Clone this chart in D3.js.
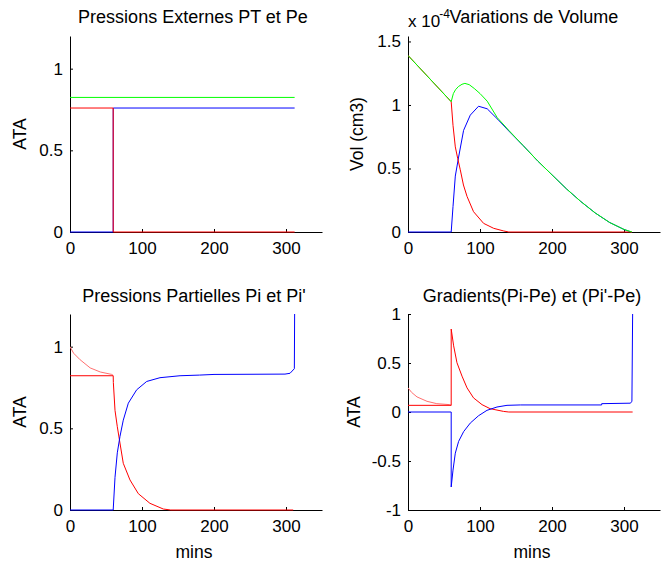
<!DOCTYPE html>
<html><head><meta charset="utf-8">
<script src="https://cdn.jsdelivr.net/npm/d3@7"></script>
<style>
body{margin:0;background:#fff}
svg{display:block;background:#fff}
text{font-family:"Liberation Sans",Arial,Helvetica,sans-serif;fill:#000}
</style>
</head><body>
<svg id="c" width="663" height="563"></svg>
<script>
// ---------- shared axis data ----------
const xDomain = [0, 350];
const xTickValues = [0, 100, 200, 300];

// ---------- Panel 1 : Pressions Externes PT et Pe ----------
const extTime = [0, 60, 60, 312];
const extBlue = [0, 0, 0.759, 0.759];
const extRed = [0.759, 0.759, 0, 0];
const extGreenTime = [0, 312];
const extGreen = [0.824, 0.824];
const extYTicks = [0, 0.5, 1];

// ---------- Panel 2 : Variations de Volume (x 1e-4 cm3) ----------
const volRedTime = [0, 60, 62.5, 65.7, 69, 72.6, 77, 82, 91, 105, 119, 133, 140, 311];
const volRed = [1.39, 1.026, 0.84, 0.67, 0.58, 0.49, 0.37, 0.28, 0.16, 0.068, 0.029, 0.008, 0, 0];
const volBlueTime = [0, 60, 62.5, 65.7, 70.3, 77.2, 86.5, 98, 110, 125, 140, 160, 180, 200, 220, 240, 260, 280, 300, 310];
const volBlue = [0, 0, 0.2, 0.44, 0.59, 0.80, 0.92, 0.99, 0.97, 0.885, 0.795, 0.68, 0.56, 0.45, 0.34, 0.24, 0.15, 0.075, 0.02, 0];
const volGreenTime = [0, 60, 63, 66, 70, 75, 79, 85, 92, 100, 110, 124, 140, 160, 180, 200, 220, 240, 260, 280, 300, 311];
const volGreen = [1.39, 1.026, 1.09, 1.12, 1.145, 1.163, 1.17, 1.16, 1.13, 1.09, 1.03, 0.90, 0.80, 0.68, 0.56, 0.45, 0.34, 0.24, 0.15, 0.075, 0.02, 0];
const volYTicks = [0, 0.5, 1, 1.5];

// ---------- Panel 3 : Pressions Partielles Pi et Pi' ----------
const ppPinkTime = [0, 5, 14, 28, 42, 58, 60];
const ppPink = [1.0, 0.96, 0.92, 0.87, 0.845, 0.83, 0.824];
const ppRedTime = [0, 60, 60.2, 62.5, 65.7, 69.4, 74, 83.3, 94.9, 111, 129.6, 140, 310];
const ppRed = [0.822, 0.822, 0.78, 0.61, 0.51, 0.41, 0.286, 0.184, 0.10, 0.041, 0.006, 0, 0];
const ppBlueTime = [0, 60, 62.5, 65.7, 69.4, 74, 81, 92.6, 106.5, 125, 152.8, 180, 200, 298.6, 305.6, 311.6, 312];
const ppBlue = [0, 0, 0.2, 0.35, 0.45, 0.55, 0.654, 0.736, 0.787, 0.81, 0.822, 0.826, 0.83, 0.832, 0.837, 0.865, 1.2];
const ppYTicks = [0, 0.5, 1];

// ---------- Panel 4 : Gradients(Pi-Pe) et (Pi'-Pe) ----------
const grPinkTime = [0, 5, 12.5, 26.4, 40, 58, 60];
const grPink = [0.247, 0.2, 0.154, 0.109, 0.085, 0.075, 0.068];
const grRedTime = [0, 60, 60, 63.4, 68, 75, 82, 91, 102.8, 114, 132.8, 140, 312];
const grRed = [0.068, 0.068, 0.846, 0.675, 0.503, 0.366, 0.246, 0.144, 0.075, 0.034, 0.006, 0, 0];
const grBlueTime = [0, 60, 60, 62.5, 65.7, 70.3, 77.3, 86.5, 98, 109.7, 123.6, 137.5, 156, 269, 269, 309, 311, 312];
const grBlue = [0, 0, -0.765, -0.593, -0.42, -0.30, -0.2, -0.113, -0.038, 0.017, 0.051, 0.068, 0.072, 0.072, 0.085, 0.09, 0.11, 1.0];
const grYTicks = [-1, -0.5, 0, 0.5, 1];

// ---------- drawing ----------
const svg = d3.select("#c");
const FONT = '"Liberation Sans",Arial,Helvetica,sans-serif';
let clipId = 0;

function toPts(t, v) { return t.map((d, i) => [d, v[i]]); }

function panel(cfg) {
  const x = d3.scaleLinear().domain(xDomain).range([cfg.left, cfg.right]);
  const y = d3.scaleLinear().domain(cfg.yDomain).range([cfg.bottom, cfg.top]);
  const g = svg.append("g");

  const xa = g.append("g").attr("transform", `translate(0,${cfg.bottom})`)
    .call(d3.axisBottom(x).tickValues(xTickValues).tickSizeInner(-3).tickSizeOuter(0)
      .tickPadding(10).tickFormat(d => String(d)));
  const ya = g.append("g").attr("transform", `translate(${cfg.left},0)`)
    .call(d3.axisLeft(y).tickValues(cfg.yTicks).tickSizeInner(-3).tickSizeOuter(0)
      .tickPadding(7).tickFormat(d => String(d)));
  [xa, ya].forEach(a => {
    a.attr("font-size", 17).attr("font-family", FONT);
    a.selectAll("path,line").attr("stroke", "#000").attr("stroke-width", 1);
    a.selectAll("text").attr("fill", "#000");
  });

  const id = "clip" + (clipId++);
  g.append("clipPath").attr("id", id).append("rect")
    .attr("x", cfg.left).attr("y", cfg.top - 1)
    .attr("width", cfg.right - cfg.left + 2).attr("height", cfg.bottom - cfg.top + 2);

  const line = d3.line().x(d => x(d[0])).y(d => y(d[1]));
  const lg = g.append("g").attr("clip-path", `url(#${id})`);
  cfg.series.forEach(s => {
    lg.append("path").attr("d", line(toPts(s.t, s.v)))
      .attr("fill", "none").attr("stroke", s.color)
      .attr("stroke-width", 1);
  });

  const cx = (cfg.left + cfg.right) / 2;
  g.append("text").attr("x", cx - (cfg.titleShift || 0)).attr("y", cfg.titleY).attr("text-anchor", "middle")
    .attr("font-size", 18).text(cfg.title);
  g.append("text").attr("transform", `translate(${cfg.ylabelX},${(cfg.top + cfg.bottom) / 2}) rotate(-90)`)
    .attr("text-anchor", "middle").attr("font-size", 17.5).text(cfg.ylabel);
  if (cfg.xlabel) {
    g.append("text").attr("x", cx - 2).attr("y", cfg.bottom + 48).attr("text-anchor", "middle")
      .attr("font-size", 17.5).text(cfg.xlabel);
  }
  return g;
}

const BLUE = "#0000ff", RED = "#ff0000", GREEN = "#00ff00", PINK = "#ff7070";

panel({
  left: 70, right: 322, top: 36, bottom: 232, yDomain: [0, 1.2], yTicks: extYTicks,
  title: "Pressions Externes PT et Pe", titleY: 22.5, titleShift: 3, ylabel: "ATA", ylabelX: 26,
  series: [
    { t: extTime, v: extBlue, color: BLUE },
    { t: extTime, v: extRed, color: RED },
    { t: extGreenTime, v: extGreen, color: GREEN }
  ]
});

const p2 = panel({
  left: 408, right: 660, top: 36, bottom: 232, yDomain: [0, 1.543], yTicks: volYTicks,
  title: "Variations de Volume", titleY: 22.5, ylabel: "Vol (cm3)", ylabelX: 363,
  series: [
    { t: volBlueTime, v: volBlue, color: BLUE },
    { t: volRedTime, v: volRed, color: RED },
    { t: volGreenTime, v: volGreen, color: GREEN }
  ]
});
const mult = p2.append("text").attr("x", 408).attr("y", 27).attr("font-size", 17);
mult.append("tspan").text("x 10");
mult.append("tspan").attr("font-size", 12).attr("dy", -9).attr("dx", -1).text("-4");

panel({
  left: 70, right: 322, top: 314, bottom: 510, yDomain: [0, 1.2], yTicks: ppYTicks,
  title: "Pressions Partielles Pi et Pi'", titleY: 301.5, titleShift: 2, ylabel: "ATA", ylabelX: 26, xlabel: "mins",
  series: [
    { t: ppPinkTime, v: ppPink, color: PINK },
    { t: ppRedTime, v: ppRed, color: RED },
    { t: ppBlueTime, v: ppBlue, color: BLUE }
  ]
});

panel({
  left: 408, right: 660, top: 314, bottom: 510, yDomain: [-1, 1], yTicks: grYTicks,
  title: "Gradients(Pi-Pe) et (Pi'-Pe)", titleY: 301.5, titleShift: 2, ylabel: "ATA", ylabelX: 360, xlabel: "mins",
  series: [
    { t: grPinkTime, v: grPink, color: PINK },
    { t: grRedTime, v: grRed, color: RED },
    { t: grBlueTime, v: grBlue, color: BLUE }
  ]
});
</script>
</body></html>
